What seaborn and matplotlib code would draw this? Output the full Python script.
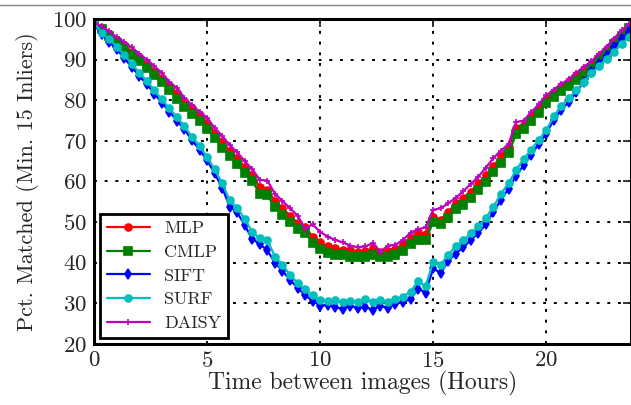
import numpy as np
import pandas as pd
import matplotlib
matplotlib.use('Agg')
import matplotlib.pyplot as plt
from matplotlib.lines import Line2D
import seaborn as sns

# time between images, sampled every 20 minutes
hours = np.arange(72) / 3

mlp = [99.0, 97.8, 96.3, 94.8, 93.6, 92.0, 90.6, 89.0, 87.3, 85.6, 83.7, 81.8,
       79.8, 78.0, 76.4, 74.5, 72.0, 69.8, 67.6, 65.8, 63.5, 61.6, 58.6, 58.0,
       55.2, 53.4, 51.6, 49.8, 48.9, 46.4, 45.0, 44.0, 43.6, 43.2, 43.0, 42.7,
       42.8, 43.5, 42.6, 42.9, 43.4, 44.5, 46.0, 47.5, 47.0, 51.2, 50.6, 52.5,
       54.6, 55.8, 57.5, 59.6, 61.5, 63.8, 66.2, 68.5, 73.2, 74.0, 76.0, 78.2,
       80.4, 82.0, 83.5, 84.8, 86.3, 87.6, 88.8, 90.8, 92.6, 94.6, 96.3, 98.0]
cmlp = [99.0, 97.5, 95.9, 94.2, 92.8, 91.2, 89.6, 88.0, 86.2, 84.4, 82.4, 80.3,
        78.4, 76.6, 74.8, 73.0, 70.6, 68.3, 66.2, 64.2, 62.0, 60.0, 57.0, 56.6,
        53.6, 51.8, 50.0, 48.3, 47.4, 44.9, 43.4, 42.4, 42.0, 41.8, 41.5, 41.4,
        41.3, 42.0, 41.3, 41.5, 41.9, 42.9, 44.5, 45.6, 45.6, 50.0, 49.6, 51.0,
        53.2, 54.3, 56.0, 58.0, 59.8, 62.3, 64.6, 67.0, 71.6, 72.8, 74.8, 76.9,
        79.2, 80.8, 82.2, 83.5, 85.0, 86.3, 87.6, 89.8, 91.7, 93.8, 95.8, 97.7]
sift = [98.8, 96.2, 94.4, 92.6, 90.4, 88.2, 86.0, 84.0, 81.6, 79.4, 77.2, 75.0,
        72.8, 70.2, 67.8, 65.2, 62.0, 58.5, 53.8, 52.4, 49.2, 45.8, 44.6, 43.0,
        40.0, 38.0, 35.8, 33.8, 32.0, 30.6, 29.4, 29.6, 29.0, 28.6, 29.4, 28.8,
        29.0, 28.4, 29.4, 28.8, 29.8, 30.4, 31.0, 33.6, 32.6, 38.6, 37.4, 40.4,
        42.2, 43.8, 45.6, 47.3, 49.5, 52.5, 55.5, 58.2, 61.4, 64.0, 66.6, 69.2,
        71.8, 75.2, 77.6, 79.6, 82.0, 84.6, 87.0, 89.0, 91.0, 93.2, 95.0, 96.8]
surf = [99.0, 96.6, 95.0, 93.2, 91.2, 89.0, 86.8, 84.8, 82.4, 80.2, 78.0, 75.8,
        73.6, 71.0, 68.8, 66.0, 63.0, 59.5, 55.4, 53.5, 50.8, 47.5, 46.0, 45.6,
        41.5, 39.5, 37.0, 35.0, 33.5, 32.0, 30.8, 30.6, 30.8, 30.2, 30.6, 30.2,
        31.0, 30.4, 30.8, 30.4, 31.0, 31.6, 32.8, 35.5, 34.2, 40.2, 39.5, 42.0,
        44.0, 45.5, 47.2, 49.0, 51.0, 53.8, 57.0, 59.5, 62.8, 65.5, 67.8, 70.2,
        72.6, 76.0, 78.5, 80.6, 82.4, 84.6, 86.6, 88.4, 90.2, 92.0, 93.8, 95.6]
daisy = [99.2, 98.2, 97.0, 95.5, 94.4, 93.0, 91.5, 90.0, 88.4, 86.7, 84.5, 83.0,
         80.6, 78.8, 77.2, 75.6, 73.2, 71.2, 69.0, 67.2, 65.0, 63.0, 60.4, 60.2,
         57.0, 55.2, 53.4, 51.6, 48.4, 49.4, 47.6, 46.4, 45.6, 45.0, 44.2, 43.8,
         44.0, 44.8, 42.7, 44.2, 44.4, 45.6, 47.4, 48.2, 48.7, 53.0, 53.4, 54.6,
         56.0, 57.6, 59.4, 61.2, 63.4, 65.8, 67.6, 69.2, 74.6, 75.0, 77.0, 79.0,
         81.2, 82.6, 84.0, 85.2, 86.8, 88.2, 89.6, 91.4, 93.2, 95.2, 97.2, 98.8]

methods = ['MLP', 'CMLP', 'SIFT', 'SURF', 'DAISY']
colors = ['#ff0000', '#008000', '#0000ff', '#00bfbf', '#bf00bf']
markers = ['o', 's', 'd', 'o', '+']
sizes = [5, 5.5, 5, 5, 5]

df = pd.DataFrame({'Hours': hours, 'MLP': mlp, 'CMLP': cmlp, 'SIFT': sift,
                   'SURF': surf, 'DAISY': daisy})

sns.set_style('white')
plt.rcParams['font.family'] = ['cmr10', 'DejaVu Serif']
plt.rcParams['axes.formatter.use_mathtext'] = True
plt.rcParams['mathtext.fontset'] = 'cm'

fig = plt.figure(figsize=(6.31, 4.05), dpi=100)
ax = fig.add_axes([0.149, 0.151, 0.851, 0.802])

for m, c, mk, s in zip(methods, colors, markers, sizes):
    sns.lineplot(data=df, x='Hours', y=m, ax=ax, color=c, marker=mk,
                 markersize=s, markeredgecolor=c, markeredgewidth=1.2,
                 linewidth=1.6, label=m)

ax.set_xlim(0, 23.75)
ax.set_ylim(20, 100)
ax.set_xticks([0, 5, 10, 15, 20])
ax.set_yticks(range(20, 101, 10))
ax.grid(True, linestyle=(0, (1.5, 4)), color='black', linewidth=1.4)
ax.tick_params(direction='in', length=6, width=1.3, labelsize=16.5,
               top=True, right=True, pad=5)
for sp in ax.spines.values():
    sp.set_linewidth(2.2)
    sp.set_color('black')

ax.set_xlabel('Time between images (Hours)', fontsize=17, labelpad=0)
ax.set_ylabel('Pct. Matched (Min. 15 Inliers)', fontsize=16, labelpad=9)

leg = ax.legend(loc='lower left', fontsize=13, frameon=True, fancybox=False,
                edgecolor='black', handlelength=2.4, borderaxespad=0.35,
                labelspacing=0.45, borderpad=0.35, handletextpad=0.8)
leg.get_frame().set_linewidth(2)
leg.get_frame().set_alpha(1)

# thin page rule at the top of the crop
fig.add_artist(Line2D([0, 1], [0.988, 0.988], color='#888888', linewidth=1))

fig.savefig('out.png', dpi=100)
